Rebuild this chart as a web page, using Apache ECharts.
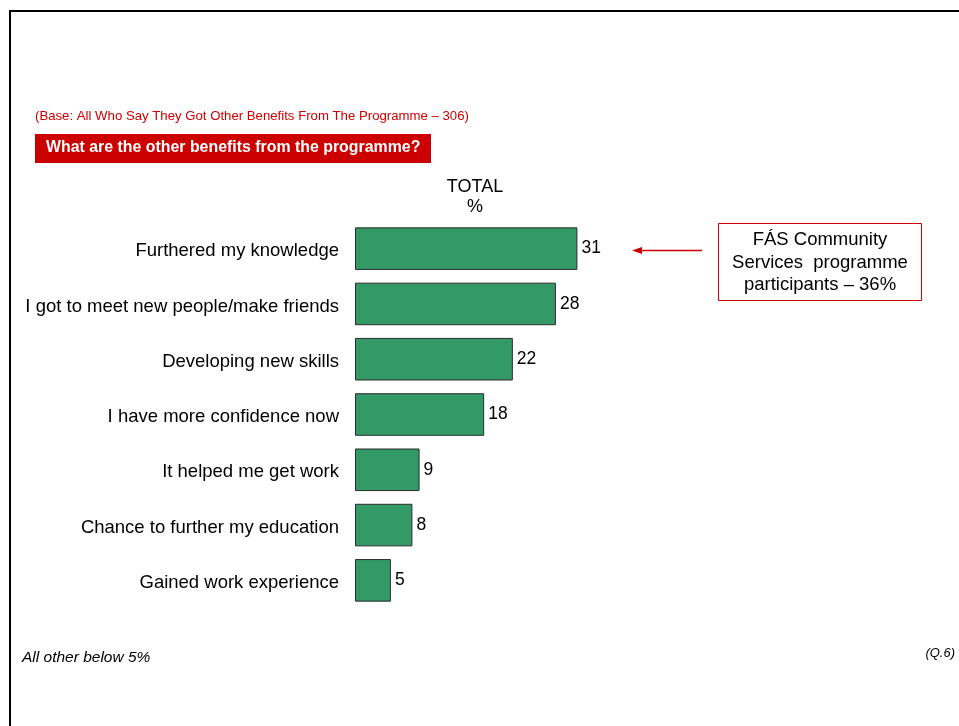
<!DOCTYPE html>
<html>
<head>
<meta charset="utf-8">
<script src="https://cdn.jsdelivr.net/npm/echarts@6/dist/echarts.min.js"></script>
<style>
  html, body { margin: 0; padding: 0; background: #fff; }
  #chart { width: 959px; height: 726px; }
</style>
</head>
<body>
<div id="chart"></div>
<script>
const categories = [
  'Furthered my knowledge',
  'I got to meet new people/make friends',
  'Developing new skills',
  'I have more confidence now',
  'It helped me get work',
  'Chance to further my education',
  'Gained work experience'
]
const totals = [31, 28, 22, 18, 9, 8, 5]

const baseText = '(Base: All Who Say They Got Other Benefits From The Programme \u2013 306)'
const questionText = 'What are the other benefits from the programme?'
const calloutLines = ['FÁS Community', 'Services  programme', 'participants \u2013 36%']
const footNote = 'All other below 5%'
const questionRef = '(Q.6)'

const font = '"Liberation Sans", Arial, sans-serif'
const colors = {
  bar: '#339966',
  barBorder: '#2b2b2b',
  red: '#cc0000',
  text: '#000000'
}

const chart = echarts.init(document.getElementById('chart'))

const option = {
  backgroundColor: '#fff',
  animation: false,
  textStyle: { fontFamily: font },
  grid: { left: 355, top: 221, width: 287, height: 387, containLabel: false },
  xAxis: {
    type: 'value',
    min: 0,
    max: 40,
    show: false
  },
  yAxis: {
    type: 'category',
    data: categories,
    inverse: true,
    axisLine: { show: false },
    axisTick: { show: false },
    splitLine: { show: false },
    axisLabel: {
      color: colors.text,
      fontSize: 18.5,
      fontFamily: font,
      margin: 16,
      verticalAlign: 'top',
      lineHeight: 5
    }
  },
  series: [
    {
      type: 'bar',
      data: totals,
      barCategoryGap: '23%',
      itemStyle: {
        color: colors.bar,
        borderColor: colors.barBorder,
        borderWidth: 1
      },
      label: {
        show: true,
        position: 'right',
        distance: 4,
        color: colors.text,
        fontSize: 17.5,
        fontFamily: font
      }
    }
  ],
  graphic: [
    // frame
    {
      type: 'polyline',
      shape: { points: [[10, 726], [10, 11], [959, 11]] },
      style: { stroke: '#000', lineWidth: 2, fill: null }
    },
    {
      type: 'text',
      left: 35, top: 110,
      style: { text: baseText, fill: colors.red, font: '13.2px ' + font }
    },
    {
      type: 'rect',
      shape: { x: 35, y: 134, width: 396, height: 29 },
      style: { fill: colors.red }
    },
    {
      type: 'text',
      left: 46, top: 140,
      style: { text: questionText, fill: '#fff', font: 'bold 15.9px ' + font }
    },
    {
      type: 'text',
      x: 475, y: 177,
      style: { text: 'TOTAL\n%', fill: colors.text, font: '18px ' + font, align: 'center', lineHeight: 20 }
    },
    // callout
    {
      type: 'rect',
      shape: { x: 718.5, y: 223.5, width: 203, height: 77 },
      style: { fill: '#fff', stroke: colors.red, lineWidth: 1 }
    },
    {
      type: 'text',
      x: 820, y: 229,
      style: { text: calloutLines.join('\n'), fill: colors.text, font: '18.5px ' + font, align: 'center', lineHeight: 22.5 }
    },
    {
      type: 'line',
      shape: { x1: 640, y1: 250.5, x2: 702, y2: 250.5 },
      style: { stroke: colors.red, lineWidth: 1.5 }
    },
    {
      type: 'polygon',
      shape: { points: [[632, 250.5], [642, 247], [642, 254]] },
      style: { fill: colors.red }
    },
    {
      type: 'text',
      left: 22, top: 650,
      style: { text: footNote, fill: colors.text, font: 'italic 15.5px ' + font }
    },
    {
      type: 'text',
      x: 955, y: 647,
      style: { text: questionRef, fill: colors.text, font: 'italic 13px ' + font, align: 'right' }
    }
  ]
}

chart.setOption(option)
</script>
</body>
</html>
